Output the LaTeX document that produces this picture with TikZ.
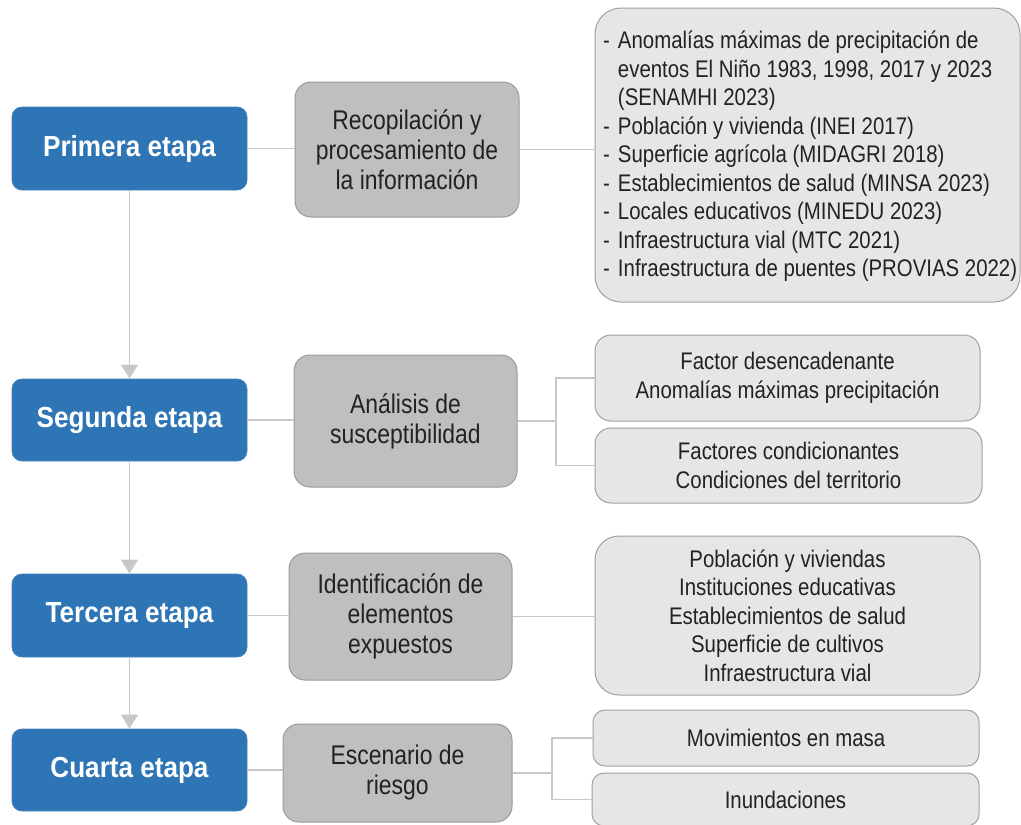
\documentclass[tikz,border=0pt]{standalone}
\usepackage{fontspec}
\setmainfont[FakeStretch=0.85]{Liberation Sans}
\newfontfamily\titlefont[FakeStretch=0.9]{Liberation Sans}
\usetikzlibrary{arrows.meta}
\definecolor{stageblue}{HTML}{2E75B6}
\definecolor{midgray}{HTML}{BFBFBF}
\definecolor{midborder}{HTML}{9A9A9A}
\definecolor{lightfill}{HTML}{E6E6E6}
\definecolor{lightborder}{HTML}{A0A0A0}
\definecolor{connline}{HTML}{C8C8C8}
\definecolor{txt}{HTML}{222222}
\tikzset{
  stagebox/.style={rectangle, rounded corners=10pt, fill=stageblue, draw=stageblue!90!white, line width=0.8pt,
    inner sep=0pt, text=white, font=\titlefont\bfseries\fontsize{29}{34}\selectfont},
  midbox/.style={rectangle, rounded corners=16pt, fill=midgray, draw=midborder, line width=1pt,
    inner sep=0pt, text=txt, align=center, font=\fontsize{27}{30}\selectfont},
  infobox/.style={rectangle, rounded corners=16pt, fill=lightfill, draw=lightborder, line width=1pt,
    inner sep=0pt, text=txt, align=center, font=\fontsize{24}{28.5}\selectfont},
  conn/.style={draw=connline, line width=1.4pt},
  flow/.style={draw=connline, line width=1.4pt, -{Triangle[width=17pt,length=14pt]}}
}
\begin{document}
\begin{tikzpicture}[x=1pt,y=-1pt]
\useasboundingbox (0,0) rectangle (1021,825);
\clip (0,0) rectangle (1021,825);
% stage boxes
\node[stagebox, minimum width=235, minimum height=83] (P) at (129.5,148.5) {Primera etapa};
\node[stagebox, minimum width=235, minimum height=82] (S) at (129.5,420) {Segunda etapa};
\node[stagebox, minimum width=235, minimum height=83] (T) at (129.5,615.5) {Tercera etapa};
\node[stagebox, minimum width=235, minimum height=82] (C) at (129.5,770) {Cuarta etapa};
% middle boxes
\node[midbox, minimum width=224, minimum height=135] (M1) at (407,149.5) {Recopilación y\\procesamiento de\\la información};
\node[midbox, minimum width=223, minimum height=132] (M2) at (405.5,421) {Análisis de\\susceptibilidad};
\node[midbox, minimum width=223, minimum height=127] (M3) at (400.5,616.5) {Identificación de\\elementos\\expuestos};
\node[midbox, minimum width=229, minimum height=98] (M4) at (397.5,773) {Escenario de\\riesgo};
% right boxes
\node[infobox, rounded corners=26pt, minimum width=425, minimum height=294] (R1) at (807.5,155) {};
\node[anchor=west, inner sep=0pt, text=txt, font=\fontsize{24}{28.5}\selectfont] (R1t) at (603,157)
  {\begin{tabular}{@{}l@{\hspace{8pt}}l@{}}
  - & Anomalías máximas de precipitación de\\
    & eventos El Niño 1983, 1998, 2017 y 2023\\
    & (SENAMHI 2023)\\
  - & Población y vivienda (INEI 2017)\\
  - & Superficie agrícola (MIDAGRI 2018)\\
  - & Establecimientos de salud (MINSA 2023)\\
  - & Locales educativos (MINEDU 2023)\\
  - & Infraestructura vial (MTC 2021)\\
  - & Infraestructura de puentes (PROVIAS 2022)
  \end{tabular}};
\node[infobox, minimum width=385, minimum height=86] (R2a) at (787.5,378) {Factor desencadenante\\Anomalías máximas precipitación};
\node[infobox, minimum width=387, minimum height=75] (R2b) at (788.5,465.5) {Factores condicionantes\\Condiciones del territorio};
\node[infobox, rounded corners=24pt, minimum width=385, minimum height=159] (R3) at (787.5,615.5) {Población y viviendas\\Instituciones educativas\\Establecimientos de salud\\Superficie de cultivos\\Infraestructura vial};
\node[infobox, rounded corners=12pt, minimum width=386, minimum height=56] (R4a) at (786,738) {Movimientos en masa};
\node[infobox, rounded corners=12pt, minimum width=387, minimum height=53] (R4b) at (785.5,799.5) {Inundaciones};
% vertical flow arrows
\draw[flow] (P.south) -- (S.north);
\draw[flow] (S.south) -- (T.north);
\draw[flow] (T.south) -- (C.north);
% stage to middle
\draw[conn] (P.east) -- (P.east -| M1.west);
\draw[conn] (S.east) -- (S.east -| M2.west);
\draw[conn] (T.east) -- (T.east -| M3.west);
\draw[conn] (C.east) -- (C.east -| M4.west);
% middle to right
\draw[conn] (M1.east) -- (M1.east -| R1.west);
\coordinate (J2) at (556,421);
\draw[conn] (M2.east) -- (J2);
\draw[conn] (J2) |- (R2a.west);
\draw[conn] (J2) |- (R2b.west);
\draw[conn] (M3.east) -- (M3.east -| R3.west);
\coordinate (J4) at (552,773);
\draw[conn] (M4.east) -- (J4);
\draw[conn] (J4) |- (R4a.west);
\draw[conn] (J4) |- (R4b.west);
\end{tikzpicture}
\end{document}
